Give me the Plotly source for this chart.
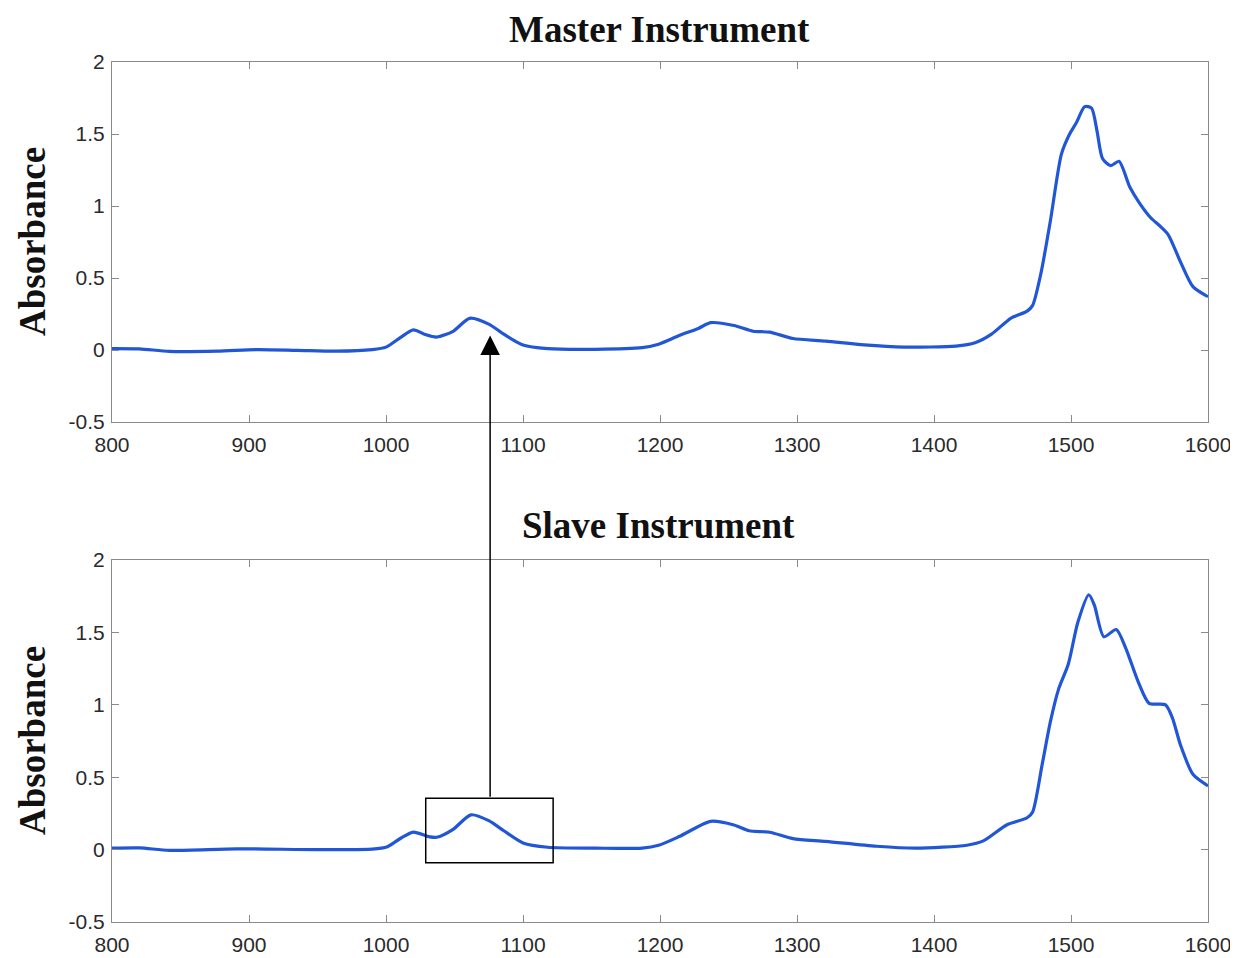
import plotly.graph_objects as go

# ---- data ----
master_x = [800, 820, 842, 877, 906, 935, 964, 990, 1000, 1011, 1020, 1028, 1037, 1049, 1061,
            1075, 1086, 1100, 1118, 1153, 1187, 1199, 1214, 1228, 1237, 1254, 1268, 1280, 1297,
            1321, 1349, 1378, 1416, 1430, 1442, 1456, 1468, 1472, 1478, 1485, 1493, 1499, 1504,
            1510, 1515, 1519, 1523, 1529, 1535, 1543, 1550, 1558, 1565, 1571, 1580, 1589, 1600]
master_y = [0.01, 0.008, -0.01, -0.008, 0.003, -0.002, -0.008, 0.003, 0.02, 0.09, 0.14, 0.11,
            0.09, 0.13, 0.22, 0.18, 0.11, 0.035, 0.01, 0.005, 0.016, 0.04, 0.10, 0.15, 0.19,
            0.17, 0.13, 0.124, 0.08, 0.062, 0.035, 0.02, 0.027, 0.05, 0.11, 0.22, 0.27, 0.31,
            0.53, 0.90, 1.36, 1.50, 1.58, 1.69, 1.68, 1.52, 1.33, 1.28, 1.31, 1.13, 1.02, 0.92,
            0.86, 0.80, 0.61, 0.44, 0.37]

slave_x = [800, 820, 842, 891, 949, 990, 1001, 1011, 1020, 1031, 1037, 1049, 1062, 1075, 1086,
           1100, 1118, 1153, 1187, 1199, 1214, 1237, 1254, 1265, 1280, 1297, 1321, 1358, 1387,
           1424, 1436, 1453, 1468, 1472, 1479, 1485, 1491, 1498, 1505, 1513, 1517, 1524, 1533,
           1540, 1549, 1557, 1569, 1574, 1580, 1589, 1600]
slave_y = [0.01, 0.012, -0.005, 0.005, 0.0, 0.003, 0.02, 0.08, 0.12, 0.09, 0.085, 0.14, 0.24,
           0.20, 0.13, 0.046, 0.016, 0.01, 0.01, 0.03, 0.09, 0.195, 0.17, 0.13, 0.12, 0.076,
           0.057, 0.023, 0.01, 0.03, 0.06, 0.17, 0.22, 0.26, 0.59, 0.885, 1.11, 1.28, 1.57,
           1.76, 1.69, 1.47, 1.52, 1.39, 1.16, 1.01, 1.00, 0.91, 0.72, 0.52, 0.44]

x_ticks = [800, 900, 1000, 1100, 1200, 1300, 1400, 1500, 1600]
x_tick_text = [str(v) for v in x_ticks]
y_ticks = [-0.5, 0, 0.5, 1, 1.5, 2]
y_tick_text = ["-0.5", "0", "0.5", "1", "1.5", "2"]

titles = ["Master Instrument", "Slave Instrument"]
y_label = "Absorbance"

# highlighted region on the slave spectrum and arrow target on master
box_x = [1029, 1122]
box_y = [-0.09, 0.355]
arrow_x = 1076
arrow_tip_y = 0.10

# ---- figure ----
# the page body has an 8px margin, so the figure is drawn 8px smaller and positions shifted
OFF = 8
W, H = 1238 - OFF, 958 - OFF
line_color = "#2156d6"
frame_color = "#8a8a8a"
tick_font = dict(family="Liberation Sans, Arial, sans-serif", size=21, color="#2a2a2a")
serif_bold = dict(family="Liberation Serif, Times New Roman, serif", size=37, color="#111111")


def px_x(p):
    return (p - OFF) / W


def px_y(p):
    return 1 - (p - OFF) / H


x_dom = [px_x(112), px_x(1208)]
top_dom = [px_y(422), px_y(62)]
bot_dom = [px_y(922), px_y(560)]

fig = go.Figure()
fig.add_trace(go.Scatter(x=master_x, y=master_y, mode="lines", xaxis="x", yaxis="y",
                         line=dict(color=line_color, width=3.2, shape="spline", smoothing=0.7),
                         showlegend=False))
fig.add_trace(go.Scatter(x=slave_x, y=slave_y, mode="lines", xaxis="x2", yaxis="y2",
                         line=dict(color=line_color, width=3.2, shape="spline", smoothing=0.7),
                         showlegend=False))


def xaxis(anchor):
    return dict(domain=x_dom, anchor=anchor, range=[800, 1600], tickvals=x_ticks,
                ticktext=x_tick_text, ticks="inside", ticklen=7, tickcolor=frame_color,
                showline=True, linecolor=frame_color, linewidth=1.2, mirror="ticks",
                showgrid=False, zeroline=False, tickfont=tick_font, automargin=False,
                ticklabelstandoff=4, fixedrange=True)


def yaxis(anchor, dom):
    return dict(domain=dom, anchor=anchor, range=[-0.5, 2], tickvals=y_ticks,
                ticktext=y_tick_text, ticks="inside", ticklen=7, tickcolor=frame_color,
                showline=True, linecolor=frame_color, linewidth=1.2, mirror="ticks",
                showgrid=False, zeroline=False, tickfont=tick_font, automargin=False,
                ticklabelstandoff=2, fixedrange=True)


fig.update_layout(
    width=W, height=H,
    margin=dict(l=0, r=0, t=0, b=0),
    paper_bgcolor="white", plot_bgcolor="white",
    xaxis=xaxis("y"), yaxis=yaxis("x", top_dom),
    xaxis2=xaxis("y2"), yaxis2=yaxis("x2", bot_dom),
)

# titles
fig.add_annotation(text="<b>%s</b>" % titles[0], xref="paper", yref="paper", x=px_x(659),
                   y=px_y(29), xanchor="center", yanchor="middle", showarrow=False, font=serif_bold)
fig.add_annotation(text="<b>%s</b>" % titles[1], xref="paper", yref="paper", x=px_x(658),
                   y=px_y(525), xanchor="center", yanchor="middle", showarrow=False, font=serif_bold)
# y labels
for dom in (top_dom, bot_dom):
    fig.add_annotation(text="<b>%s</b>" % y_label, xref="paper", yref="paper", x=px_x(32),
                       y=(dom[0] + dom[1]) / 2, xanchor="center", yanchor="middle",
                       textangle=-90, showarrow=False, font=serif_bold)

# box on slave plot
fig.add_shape(type="rect", xref="x2", yref="y2", x0=box_x[0], x1=box_x[1], y0=box_y[0],
              y1=box_y[1], line=dict(color="black", width=1.5), fillcolor="rgba(0,0,0,0)")


# arrow from box top (slave) up to master peak; tail expressed in master y-units
def slave_to_master_y(v):
    bot_px_per_unit = (bot_dom[1] - bot_dom[0]) * H / 2.5
    top_px_per_unit = (top_dom[1] - top_dom[0]) * H / 2.5
    py_from_bottom = bot_dom[0] * H + (v + 0.5) * bot_px_per_unit
    return (py_from_bottom - top_dom[0] * H) / top_px_per_unit - 0.5


fig.add_annotation(x=arrow_x, y=arrow_tip_y, xref="x", yref="y", ax=arrow_x,
                   ay=slave_to_master_y(box_y[1]), axref="x", ayref="y", showarrow=True,
                   arrowhead=2, arrowsize=2.6, arrowwidth=1.5, arrowcolor="black", text="")

fig.write_html("out.html")
